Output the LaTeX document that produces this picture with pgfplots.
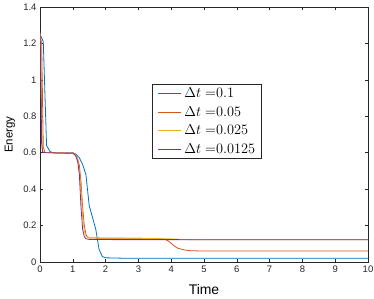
\documentclass[border=0pt]{standalone}
\usepackage{fontspec}
\setmainfont{Liberation Sans}
\usepackage{pgfplots}
\pgfplotsset{compat=1.18}
\definecolor{mblue}{rgb}{0,0.447,0.741}
\definecolor{mred}{rgb}{0.85,0.325,0.098}
\definecolor{myel}{rgb}{0.929,0.694,0.125}
\definecolor{mpur}{rgb}{0.494,0.184,0.556}
\definecolor{axgray}{rgb}{0.15,0.15,0.15}
\newcommand{\lline}[1]{\textcolor{#1}{\rule[3.4bp]{23bp}{1bp}}\hspace{3bp}}
\begin{document}
\begin{tikzpicture}
\path[use as bounding box] (-40bp,-37bp) rectangle (334bp,262bp);
\begin{axis}[
  at={(0,0)}, anchor=origin,
  scale only axis, width=328bp, height=255bp,
  xmin=0, xmax=10, ymin=0, ymax=1.4,
  xtick={0,1,...,10}, ytick={0,0.2,0.4,0.6,0.8,1,1.2,1.4},
  yticklabels={0,0.2,0.4,0.6,0.8,1,1.2,1.4},
  tick align=inside, major tick length=3bp,
  axis line style={axgray, line width=0.5pt},
  every tick/.style={axgray, line width=0.5pt},
  tick label style={font=\fontsize{9.5}{11}\selectfont, text=axgray},
  /pgf/number format/assume math mode=true,
  xlabel={Time}, ylabel={Energy},
  xlabel style={at={(axis description cs:0.5,-0.106)}, anchor=center, font=\fontsize{14}{16}\selectfont},
  ylabel style={at={(axis description cs:-0.0915,0.5)}, anchor=center, font=\fontsize{11.5}{13}\selectfont},
  legend style={at={(0.342,0.698)}, anchor=north west, draw=axgray, line width=0.5pt,
    font=\fontsize{14.4}{16}\selectfont, inner xsep=4bp, inner ysep=1.5bp, row sep=3.2bp,
    column sep=0pt},
  legend cell align=left,
  legend image code/.code={},
  every axis plot/.append style={line width=0.8pt},
]
\addplot[mblue] coordinates {(0,1.25) (0.1,1.21) (0.2,0.64) (0.3,0.607) (0.4,0.6) (0.6,0.598) (0.8,0.598) (0.9,0.6) (1.0,0.6) (1.1,0.592) (1.2,0.572) (1.3,0.535) (1.4,0.48) (1.5,0.31) (1.6,0.245) (1.7,0.18) (1.8,0.07) (1.9,0.03) (2.0,0.023) (2.5,0.021) (10,0.021)};
\addlegendentry{\lline{mblue}$\Delta t =$\hbox{$0.1$}}
\addplot[mred] coordinates {(0,1.25) (0.05,1.2) (0.1,0.63) (0.15,0.602) (0.3,0.6) (1.0,0.598) (1.05,0.595) (1.1,0.585) (1.15,0.565) (1.2,0.53) (1.25,0.44) (1.3,0.3) (1.35,0.2) (1.4,0.152) (1.45,0.137) (1.5,0.132) (2,0.13) (3,0.13) (3.6,0.128) (3.8,0.125) (3.9,0.117) (4.0,0.102) (4.1,0.087) (4.2,0.076) (4.4,0.066) (4.6,0.062) (5,0.06) (10,0.06)};
\addlegendentry{\lline{mred}$\Delta t =$\hbox{$0.05$}}
\addplot[myel] coordinates {(0,1.26) (0.025,1.2) (0.05,0.8) (0.075,0.62) (0.1,0.602) (0.3,0.6) (1.0,0.598) (1.05,0.594) (1.1,0.585) (1.15,0.56) (1.2,0.5) (1.25,0.4) (1.3,0.25) (1.35,0.17) (1.4,0.142) (1.5,0.133) (3,0.13) (4,0.127) (4.5,0.123) (5,0.122) (10,0.122)};
\addlegendentry{\lline{myel}$\Delta t =$\hbox{$0.025$}}
\addplot[mpur] coordinates {(0,1.27) (0.02,1.1) (0.05,0.65) (0.08,0.602) (0.2,0.6) (1.0,0.597) (1.05,0.59) (1.1,0.578) (1.15,0.55) (1.2,0.48) (1.25,0.3) (1.3,0.18) (1.35,0.14) (1.4,0.128) (1.5,0.124) (2,0.123) (10,0.122)};
\addlegendentry{\lline{mpur}$\Delta t =$\hbox{$0.0125$}}
\end{axis}
\end{tikzpicture}
\end{document}
